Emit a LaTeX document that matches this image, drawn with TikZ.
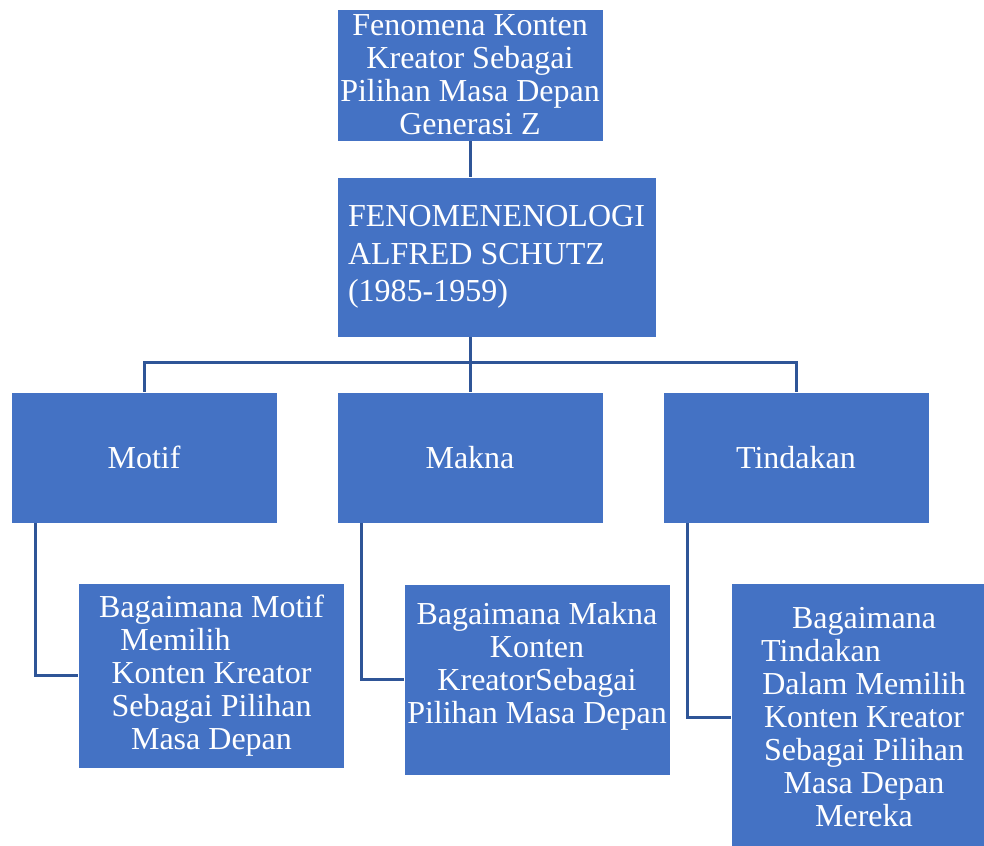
\documentclass[tikz,border=0pt]{standalone}
\usepackage{fontspec}
\setmainfont{Liberation Serif}
\usetikzlibrary{positioning, calc}

\definecolor{boxblue}{HTML}{4472C4}
\definecolor{linkblue}{HTML}{2F5597}

\begin{document}
\begin{tikzpicture}[x=1pt, y=-1pt,
  box/.style={rectangle, fill=boxblue, draw=white, line width=0.8pt, text=white,
    inner sep=0pt, font=\fontsize{32}{33}\selectfont, align=center},
  link/.style={draw=linkblue, line width=3pt}]
\clip (0,0) rectangle (984,845);

% Top title and theory
\node[box, minimum width=266pt, minimum height=132pt] (title) at (470,75)
  {Fenomena Konten\\Kreator Sebagai\\Pilihan Masa Depan\\Generasi Z};
\node[box, minimum width=319pt, minimum height=160pt, align=left,
  font=\fontsize{32}{37.5}\selectfont] (theory) at (496.5,257)
  {FENOMENENOLOGI\\ALFRED SCHUTZ\\(1985-1959)};

% Three aspects
\node[box, minimum width=266pt, minimum height=131pt] (motif) at (144,457.5) {Motif};
\node[box, minimum width=266pt, minimum height=131pt] (makna) at (470,457.5) {Makna};
\node[box, minimum width=266pt, minimum height=131pt] (tindakan) at (796,457.5) {Tindakan};

% Questions below each aspect
\node[box, minimum width=266pt, minimum height=185pt] (motifq) at (211.5,675.5)
  {Bagaimana Motif\\\mbox{Memilih\hspace{72pt}}\\Konten Kreator\\Sebagai Pilihan\\Masa Depan};
\node[box, minimum width=266pt, minimum height=191pt] (maknaq) at (537,679.5)
  {Bagaimana Makna\\Konten\\KreatorSebagai\\Pilihan Masa Depan\\\mbox{}};
\node[box, minimum width=266pt, minimum height=268pt] (tindakanq) at (864,717)
  {Bagaimana\\\mbox{Tindakan\hspace{86pt}}\\Dalam Memilih\\Konten Kreator\\Sebagai Pilihan\\Masa Depan\\Mereka};

% Connectors
\coordinate (bus) at (470,362);
\draw[link] (title.south) -- (title.south |- theory.north);
\draw[link] (makna.north |- theory.south) -- (makna.north);
\draw[link] (motif.north) |- (bus) -| (tindakan.north);

\draw[link] ([xshift=25pt]motif.south west) |- (motifq.west);
\draw[link] ([xshift=25pt]makna.south west) |- (maknaq.west);
\draw[link] ([xshift=25pt]tindakan.south west) |- (tindakanq.west);
\end{tikzpicture}
\end{document}
